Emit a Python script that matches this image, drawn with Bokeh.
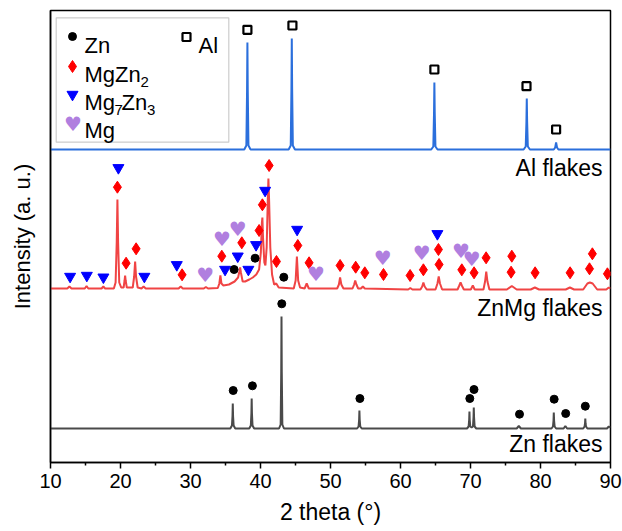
from bokeh.plotting import figure
from bokeh.models import Range1d, FixedTicker, Label, BoxAnnotation
from bokeh.core.properties import value
from bokeh.embed import file_html
from bokeh.resources import INLINE

# ---------------- data (2 theta in degrees, intensity in a.u., offset stacked) -------------
al_pattern = [(10, 313), (37.68, 313), (37.98, 317), (38.08, 372), (38.13, 420), (38.18, 372), (38.28, 317), (38.58, 313),
              (44.02, 313), (44.32, 317), (44.42, 374), (44.47, 424), (44.52, 374), (44.62, 317), (44.92, 313),
              (64.39, 313), (64.69, 316), (64.79, 350), (64.84, 380), (64.89, 350), (64.99, 316), (65.29, 313),
              (77.59, 313), (77.89, 316), (77.99, 341), (78.04, 364), (78.09, 341), (78.19, 316), (78.49, 313),
              (81.9, 313), (82.1, 315), (82.23, 320), (82.36, 315), (82.56, 313), (90, 313)]

znmg_pattern = [(10, 174), (12.4, 174), (12.7, 176), (13.0, 174),
                (14.9, 174), (15.15, 176.5), (15.4, 174),
                (17.3, 174), (17.55, 176), (17.8, 174),
                (19.05, 174), (19.3, 180), (19.46, 220), (19.56, 263), (19.66, 220), (19.82, 180), (20.1, 175),
                (20.45, 175), (20.58, 182), (20.66, 187), (20.74, 182), (20.9, 175),
                (21.75, 175), (21.95, 186), (22.09, 201), (22.22, 186), (22.45, 175),
                (23.0, 174), (23.3, 176), (23.6, 174),
                (28.3, 174), (28.6, 176), (28.9, 174),
                (31.9, 174), (32.2, 175.5), (32.5, 174),
                (33.9, 174.5), (34.12, 179), (34.27, 187), (34.42, 179), (34.7, 177),
                (35.5, 178), (36.3, 181), (36.8, 185), (36.98, 191), (37.09, 195), (37.2, 190), (37.45, 181),
                (37.8, 181), (38.4, 183), (38.9, 185), (39.4, 188), (39.8, 193), (40.05, 210), (40.2, 240),
                (40.27, 245), (40.36, 225), (40.55, 200), (40.7, 197), (40.88, 215), (41.03, 260), (41.13, 284),
                (41.23, 262), (41.4, 215), (41.65, 188), (41.95, 178), (42.25, 179), (42.6, 175),
                (44.75, 174), (45.02, 182), (45.2, 206), (45.38, 182), (45.65, 175),
                (46.3, 174), (46.6, 179), (46.9, 174),
                (50.95, 174), (51.2, 178), (51.37, 185), (51.55, 178), (51.85, 174),
                (53.15, 174), (53.38, 178), (53.53, 182), (53.7, 178), (53.95, 174),
                (54.35, 174), (54.62, 176), (54.9, 174),
                (61.1, 173), (61.4, 174.5), (61.7, 173),
                (62.85, 173), (63.1, 176), (63.27, 180), (63.45, 176), (63.75, 173),
                (65.0, 173), (65.28, 179), (65.46, 186), (65.64, 179), (65.95, 173),
                (68.15, 173), (68.4, 177), (68.58, 180), (68.76, 177), (69.05, 173),
                (70.05, 173), (70.33, 177), (70.6, 173),
                (71.85, 173), (72.08, 181), (72.25, 191), (72.42, 181), (72.7, 173),
                (75.2, 173), (75.9, 176.5), (76.6, 173),
                (78.6, 173), (79.2, 175), (79.8, 173),
                (83.6, 173), (84.2, 175), (84.8, 173),
                (86.1, 173), (86.7, 179), (87.05, 180), (87.45, 179), (88.1, 173),
                (89.4, 173), (89.75, 175), (90, 174)]

zn_pattern = [(10, 34), (35.69, 34), (35.92, 37), (36.0, 46.5), (36.04, 59), (36.08, 46.5), (36.16, 37), (36.39, 34),
              (38.39, 34), (38.62, 37), (38.7, 49), (38.74, 64), (38.78, 49), (38.86, 37), (39.09, 34),
              (42.65, 34), (42.88, 38), (42.96, 90), (43.0, 146), (43.04, 90), (43.12, 38), (43.35, 34),
              (53.8, 34), (54.01, 36), (54.09, 43), (54.13, 52), (54.17, 43), (54.25, 36), (54.46, 34),
              (69.5, 34), (69.73, 36), (69.81, 42.5), (69.85, 51), (69.89, 42.5), (69.97, 36), (70.16, 35),
              (70.35, 36), (70.43, 45), (70.47, 55), (70.51, 45), (70.59, 36), (70.82, 34),
              (76.6, 34), (76.9, 36.5), (77.2, 34),
              (81.57, 34), (81.78, 36), (81.86, 42), (81.9, 50), (81.94, 42), (82.02, 36), (82.23, 34),
              (83.3, 34), (83.55, 36.5), (83.8, 34),
              (86.1, 34), (86.3, 36), (86.36, 39), (86.4, 44), (86.44, 39), (86.5, 36), (86.7, 34),
              (89.5, 34), (89.75, 36), (90, 35)]

# phase markers (2 theta, marker height)
al_marks_x = [38.13, 44.56, 64.84, 78.0, 82.23]
al_marks_y = [432.7, 437, 393, 376.3, 333]

zn_marks_x = [36.1, 38.85, 43.04, 54.2, 69.9, 70.5, 77.0, 81.95, 83.6, 86.4,   # Zn flakes
              36.23, 39.23, 43.33]                                               # in ZnMg flakes
zn_marks_y = [72, 76.7, 158.7, 64, 64, 73, 48.3, 63.3, 49, 56.3,
              193, 204.3, 185.3]

mgzn2_x = [19.56, 20.8, 22.23, 28.8, 34.47, 37.33, 39.8, 40.27, 41.23, 42.28, 45.33, 46.94, 51.37, 53.6, 54.9,
           57.57, 61.37, 63.27, 65.42, 65.51, 68.76, 70.51, 72.23, 75.8, 75.9, 79.23, 84.23, 87.0, 87.41, 89.56]
mgzn2_y = [275.3, 199.3, 213.7, 187.7, 206.3, 219.7, 232, 257.7, 297, 201, 217, 199.7, 197, 195.3, 189.7,
           188, 187, 192.7, 213, 198, 192.7, 189.7, 204.7, 190.3, 206.3, 189.7, 189.7, 193.7, 208.7, 188.7]

mg7zn3_x = [12.8, 15.19, 17.56, 19.7, 23.41, 28.04, 34.94, 36.75, 38.27, 39.37, 40.66, 45.23, 65.27]
mg7zn3_y = [186, 187, 185.3, 294.7, 186, 197.7, 193, 206.3, 193, 217.7, 272, 233, 228.7]

mg_x = [32.09, 34.5, 36.75, 47.94, 57.47, 63.04, 68.65, 70.18]
mg_y = [188, 223.7, 233.7, 188.7, 204.7, 209.7, 211.3, 203.7]

x_ticks = [10, 20, 30, 40, 50, 60, 70, 80, 90]
x_minor = [15, 25, 35, 45, 55, 65, 75, 85]
sample_labels = ["Al flakes", "ZnMg flakes", "Zn flakes"]

# ---------------- styling -------------
FONT = "Liberation Sans"
BLUE = "#2b6fdc"
RED = "#f04444"
GRAY = "#4a4a4a"
PURPLE = "#b07fdf"

p = figure(frame_width=560, frame_height=452, min_border_left=50, min_border_right=12,
           min_border_top=10, min_border_bottom=69, x_range=Range1d(10, 90), y_range=Range1d(0, 452),
           output_backend="svg", toolbar_location=None)
p.background_fill_color = "white"
p.border_fill_color = "white"
p.outline_line_color = "black"
p.outline_line_width = 1.5
p.xgrid.grid_line_color = None
p.ygrid.grid_line_color = None

p.xaxis.ticker = FixedTicker(ticks=x_ticks, minor_ticks=x_minor)
p.xaxis.major_tick_out = 6
p.xaxis.major_tick_in = 0
p.xaxis.minor_tick_out = 3
p.xaxis.minor_tick_in = 0
p.xaxis.major_tick_line_width = 1.5
p.xaxis.minor_tick_line_width = 1.5
p.xaxis.major_tick_line_color = "black"
p.xaxis.minor_tick_line_color = "black"
p.xaxis.axis_line_color = "black"
p.xaxis.axis_line_width = 1.5
p.xaxis.major_label_text_font = FONT
p.xaxis.major_label_text_font_size = "20px"
p.xaxis.major_label_text_color = "black"
p.xaxis.major_label_standoff = 5
p.xaxis.axis_label = "2 theta (°)"
p.xaxis.axis_label_text_font = FONT
p.xaxis.axis_label_text_font_size = "23px"
p.xaxis.axis_label_text_font_style = "normal"
p.xaxis.axis_label_text_color = "black"
p.xaxis.axis_label_standoff = 8

p.yaxis.ticker = FixedTicker(ticks=[])
p.yaxis.major_tick_line_color = None
p.yaxis.minor_tick_line_color = None
p.yaxis.axis_line_color = "black"
p.yaxis.axis_line_width = 1.5
p.yaxis.axis_label = "Intensity (a. u.)"
p.yaxis.axis_label_text_font = FONT
p.yaxis.axis_label_text_font_size = "22px"
p.yaxis.axis_label_text_font_style = "normal"
p.yaxis.axis_label_text_color = "black"
p.yaxis.axis_label_standoff = 16

# ---------------- traces -------------
for pattern, color in [(zn_pattern, GRAY), (znmg_pattern, RED), (al_pattern, BLUE)]:
    xs, ys = zip(*pattern)
    p.line(list(xs), list(ys), line_color=color, line_width=2)

# ---------------- phase markers -------------
p.scatter(zn_marks_x, zn_marks_y, marker="circle", size=8, fill_color="black", line_color="black")
p.scatter(al_marks_x, al_marks_y, marker="square", size=8, fill_color="white", line_color="black", line_width=2.2)
p.scatter(mgzn2_x, mgzn2_y, marker="diamond", size=12, fill_color="red", line_color="red")
p.scatter(mg7zn3_x, mg7zn3_y, marker="inverted_triangle", size=11, fill_color="blue", line_color="blue")
p.text(mg_x, mg_y, text=["♥"] * len(mg_x), text_color=PURPLE, text_font=value("DejaVu Sans"),
       text_font_size="20px", text_align="center", text_baseline="middle")

# ---------------- sample labels -------------
for lab, yy in zip(sample_labels, [295, 155, 19]):
    p.add_layout(Label(x=88.86, y=yy, text=lab, text_align="right", text_baseline="middle",
                       text_font=FONT, text_font_size="23px", text_color="black"))

# ---------------- legend (drawn manually) -------------
def X(px):
    return 10 + (px - 50) / 7.0

def Y(py):
    return 462 - py

p.add_layout(BoxAnnotation(left=X(55.7), right=X(228.3), top=Y(17.3), bottom=Y(141.7),
                           fill_color=None, line_color="#555555", line_width=1.2))
p.scatter([X(72)], [Y(36)], marker="circle", size=8, fill_color="black", line_color="black")
p.scatter([X(186)], [Y(36.5)], marker="square", size=8, fill_color="white", line_color="black", line_width=2.2)
p.scatter([X(72)], [Y(66)], marker="diamond", size=12, fill_color="red", line_color="red")
p.scatter([X(72)], [Y(94)], marker="inverted_triangle", size=11, fill_color="blue", line_color="blue")
p.text([X(72.5)], [Y(123)], text=["♥"], text_color=PURPLE, text_font=value("DejaVu Sans"),
       text_font_size="20px", text_align="center", text_baseline="middle")

def leg_text(px, py, txt, size="22px"):
    p.add_layout(Label(x=X(px), y=Y(py), text=txt, text_align="left", text_baseline="alphabetic",
                       text_font=FONT, text_font_size=size, text_color="black"))

leg_text(84, 45, "Zn")
leg_text(198, 45, "Al")
leg_text(84, 74, "MgZn")
leg_text(140, 81, "2", "15px")
leg_text(84, 102, "Mg")
leg_text(114, 109, "7", "15px")
leg_text(121, 102, "Zn")
leg_text(146.5, 109, "3", "15px")
leg_text(84, 130, "Mg")

open("out.html", "w").write(file_html(p, INLINE))
